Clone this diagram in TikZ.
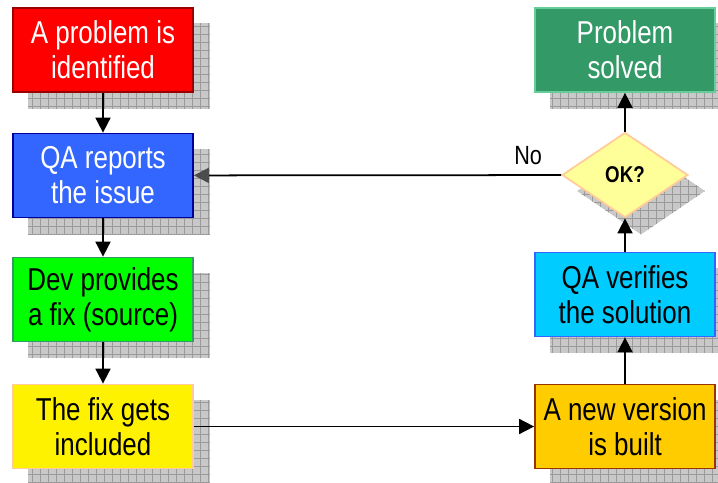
\documentclass[tikz,border=0pt]{standalone}
\usepackage{fontspec}
\setmainfont{Liberation Sans}
\newfontfamily\tallfont[FakeStretch=0.82]{Liberation Sans}
\usetikzlibrary{shapes.geometric,arrows.meta,backgrounds}

\definecolor{darkred}{HTML}{990000}
\definecolor{qablue}{HTML}{3366FF}
\definecolor{navy}{HTML}{000099}
\definecolor{seagreen}{HTML}{339966}
\definecolor{peach}{HTML}{FFCC99}
\definecolor{skyblue}{HTML}{00CCFF}
\definecolor{gold}{HTML}{FFCC00}
\definecolor{rust}{HTML}{993300}
\definecolor{paleyellow}{HTML}{FFFF99}
\definecolor{lightgreen}{HTML}{66CC99}
\definecolor{shadowfill}{HTML}{C8C8C8}
\definecolor{shadowline}{HTML}{9A9A9A}

\tikzset{
  stepbox/.style={rectangle, draw, line width=1pt, minimum width=3.6cm, minimum height=1.68cm,
    align=center, inner sep=2pt, font=\tallfont\fontsize{18}{20}\selectfont},
  decision/.style={diamond, draw=peach, fill=paleyellow, line width=1pt, minimum width=2.52cm,
    minimum height=1.7cm, inner sep=0pt, font=\tallfont\fontsize{13}{15}\selectfont\bfseries},
  flow/.style={-{Triangle[length=3mm,width=3mm]}, line width=1pt},
}

\begin{document}
\begin{tikzpicture}
\useasboundingbox (0,0) rectangle (14.36,9.64);
\clip (0,0) rectangle (14.36,9.64);

% left column
\node[stepbox, fill=red, draw=darkred, text=white] (identified) at (2.06,8.64) {A problem is\\identified};
\node[stepbox, fill=qablue, draw=navy, text=white] (reports) at (2.06,6.13) {QA reports\\the issue};
\node[stepbox, fill=green, draw=seagreen] (fix) at (2.06,3.65) {Dev provides\\a fix (source)};
\node[stepbox, fill=yellow, draw=peach] (included) at (2.06,1.11) {The fix gets\\included};

% right column
\node[stepbox, fill=gold, draw=rust] (built) at (12.5,1.11) {A new version\\is built};
\node[stepbox, fill=skyblue, draw=qablue] (verifies) at (12.5,3.75) {QA verifies\\the solution};
\node[decision] (ok) at (12.5,6.14) {OK?};
\node[stepbox, fill=seagreen, draw=lightgreen, text=white] (solved) at (12.5,8.64) {Problem\\solved};

% shadows
\begin{scope}[on background layer]
  \foreach \n in {identified,reports,fix,included,built,verifies,solved} {
    \begin{scope}
      \clip ([shift={(0.32,-0.32)}]\n.south west) rectangle ([shift={(0.32,-0.32)}]\n.north east);
      \fill[shadowfill] ([shift={(0.32,-0.32)}]\n.south west) rectangle ([shift={(0.32,-0.32)}]\n.north east);
      \draw[shadowline, line width=0.5pt, step=0.16] ([shift={(0.32,-0.32)}]\n.south west) grid ([shift={(0.32,-0.32)}]\n.north east);
    \end{scope}
  }
  \begin{scope}
    \clip ([shift={(0.32,-0.32)}]ok.north) -- ([shift={(0.32,-0.32)}]ok.east)
      -- ([shift={(0.32,-0.32)}]ok.south) -- ([shift={(0.32,-0.32)}]ok.west) -- cycle;
    \fill[shadowfill] (10,3) rectangle (15,8);
    \draw[shadowline, line width=0.5pt, step=0.16] (10,3) grid (15,8);
  \end{scope}
\end{scope}

% connectors
\draw[flow] (identified) -- (reports);
\draw[flow] (reports) -- (fix);
\draw[flow] (fix) -- (included);
\draw[flow] (included) -- (built);
\draw[flow] (built) -- (verifies);
\draw[flow] (verifies) -- (ok);
\draw[flow] (ok) -- (solved);
\draw[flow, -{Triangle[length=3mm,width=3mm,color=black!70]}] (ok) -- (reports)
  node[pos=0.09, above=2pt, font=\tallfont\fontsize{15}{17}\selectfont] {No};
\end{tikzpicture}
\end{document}
